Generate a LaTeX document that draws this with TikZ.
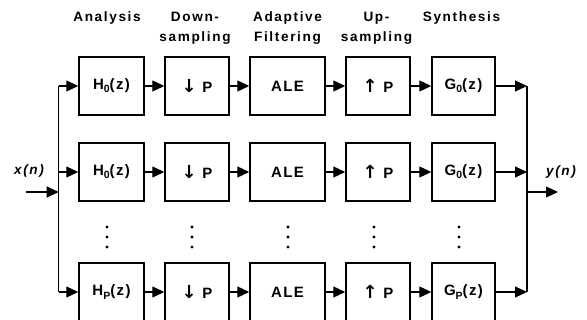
\documentclass[tikz,border=0pt]{standalone}
\usepackage{fontspec}
\setmainfont{Liberation Sans}
\newfontfamily\hdrfont{Liberation Sans}[LetterSpace=12]
\newfontfamily\boxfont{Liberation Sans}[LetterSpace=9]
\newfontfamily\arrfont{DejaVu Sans}
\usetikzlibrary{arrows.meta}
\newcommand{\idx}[1]{\raisebox{-0.4ex}{\fontsize{10.5}{10.5}\selectfont #1}}
\newcommand{\dn}{{\arrfont\fontsize{18}{18}\selectfont ↓}}
\newcommand{\up}{{\arrfont\fontsize{18}{18}\selectfont ↑}}
\tikzset{
  blk/.style={draw, line width=1.4pt, minimum height=58pt, inner sep=0pt,
    font=\boxfont\bfseries\fontsize{15}{17}\selectfont},
  hdr/.style={anchor=base, align=center,
    font=\hdrfont\bfseries\fontsize{13.6}{20}\selectfont},
  sig/.style={font=\hdrfont\bfseries\itshape\fontsize{13.6}{15}\selectfont},
  wire/.style={line width=1.1pt},
  arr/.style={wire, -{Triangle[length=12pt,width=11pt]}}
}

\begin{document}
\begin{tikzpicture}[x=1pt,y=-1pt]
		%%%%% START %%%%%
		\useasboundingbox (0,0) rectangle (587,320);
		
		\node[hdr] (hana) at (107,22) {Analysis};
		\node[hdr] (hdown) at (195,41.7) {Down-\\sampling};
		\node[hdr] (hada) at (287.5,41.7) {Adaptive\\Filtering};
		\node[hdr] (hup) at (376.5,41.7) {Up-\\sampling};
		\node[hdr] (hsyn) at (461.5,22) {Synthesis};
		
		\foreach \r/\y/\k in {a/86/0, b/172/0, c/292/P} {
			\node[blk, minimum width=65pt] (h\r) at (111.5,\y) {H\idx{\k}(z)};
			\node[blk, minimum width=64pt] (d\r) at (197,\y) {\dn\ P};
			\node[blk, minimum width=75pt] (f\r) at (287.5,\y) {ALE};
			\node[blk, minimum width=64pt] (u\r) at (378,\y) {\up\ P};
			\node[blk, minimum width=63pt] (g\r) at (463.5,\y) {G\idx{\k}(z)};
			\draw[arr] (h\r) -- (d\r);
			\draw[arr] (d\r) -- (f\r);
			\draw[arr] (f\r) -- (u\r);
			\draw[arr] (u\r) -- (g\r);
		}
		
		\foreach \x in {107,192,288,374,459}
			\foreach \y in {227,237,247}
				\fill (\x,\y) circle (1.6);
		
		\coordinate (lt) at (58.7,86);
		\coordinate (lm) at (58.7,172);
		\coordinate (lb) at (58.7,292);
		\coordinate (ljn) at (58.7,192);
		\coordinate (xin) at (26,192);
		\draw[wire] (lt) -- (lb);
		\draw[arr] (lt) -- (ha);
		\draw[arr] (lm) -- (hb);
		\draw[arr] (lb) -- (hc);
		\draw[arr] (xin) -- (ljn);
		\node[sig] (xlab) at (29,171) {x(n)};
		
		\coordinate (rt) at (527,86);
		\coordinate (rm) at (527,172);
		\coordinate (rb) at (527,292);
		\coordinate (rjn) at (527,192);
		\coordinate (yout) at (558,192);
		\draw[wire] (rt) -- (rb);
		\draw[arr] (ga) -- (rt);
		\draw[arr] (gb) -- (rm);
		\draw[arr] (gc) -- (rb);
		\draw[arr] (rjn) -- (yout);
		\node[sig] (ylab) at (561,172) {y(n)};
		
		%%%%% END %%%%%
	\end{tikzpicture}
\end{document}
